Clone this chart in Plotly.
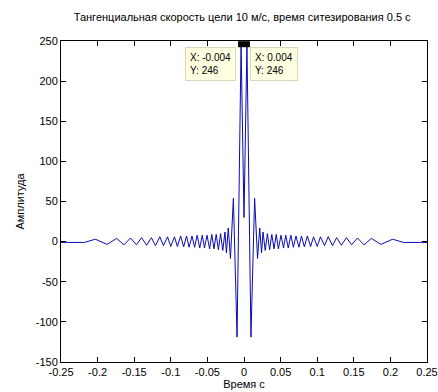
import plotly.graph_objects as go

# Time samples (s) and amplitude at vertices
time_s = [
    -0.25, -0.218, -0.203, -0.187, -0.174, -0.164, -0.155, -0.147, -0.140, -0.133,
    -0.1265, -0.121, -0.115, -0.110, -0.1045, -0.100, -0.095, -0.091, -0.0865, -0.0825,
    -0.0785, -0.075, -0.071, -0.0675, -0.064, -0.0605, -0.057, -0.054, -0.0505, -0.047,
    -0.044, -0.041, -0.038, -0.035, -0.032, -0.029, -0.026, -0.024, -0.0215, -0.0185,
    -0.0145, -0.0095, -0.004, 0.0,
    0.004, 0.0095, 0.0145, 0.0185, 0.0215, 0.024, 0.026, 0.029, 0.032, 0.035,
    0.038, 0.041, 0.044, 0.047, 0.0505, 0.054, 0.057, 0.0605, 0.064, 0.0675,
    0.071, 0.075, 0.0785, 0.0825, 0.0865, 0.091, 0.095, 0.100, 0.1045, 0.110,
    0.115, 0.121, 0.1265, 0.133, 0.140, 0.147, 0.155, 0.164, 0.174, 0.187,
    0.203, 0.218, 0.25,
]
amplitude = [
    -1, -1, 3, -3.5, 4, -4, 4.5, -4, 5, -4.5,
    5, -5, 6, -5, 6, -6, 6, -6, 7, -6.5,
    7, -7, 7, -7, 8, -8, 8, -8, 8, -9,
    9, -9, 9, -10, 10, -11, 12, -14, 17, -21,
    54, -119, 246, 30,
    246, -119, 54, -21, 17, -14, 12, -11, 10, -10,
    9, -9, 9, -9, 8, -8, 8, -8, 8, -7,
    7, -7, 7, -6.5, 7, -6, 6, -6, 6, -5,
    6, -5, 5, -4.5, 5, -4, 4.5, -4, 4, -3.5,
    3, -1, -1,
]

# Data tips
tip_x = [-0.004, 0.004]
tip_y = [246, 246]

# Axis ticks
x_ticks = [-0.25, -0.2, -0.15, -0.1, -0.05, 0, 0.05, 0.1, 0.15, 0.2, 0.25]
x_labels = ["-0.25", "-0.2", "-0.15", "-0.1", "-0.05", "0", "0.05", "0.1", "0.15", "0.2", "0.25"]
y_ticks = [-150, -100, -50, 0, 50, 100, 150, 200, 250]
y_labels = ["-150", "-100", "-50", "0", "50", "100", "150", "200", "250"]

title_text = "Тангенциальная скорость цели 10 м/с, время ситезирования 0.5 с"
x_title = "Время с"
y_title = "Амплитуда"

FONT = "Liberation Sans, Arial, sans-serif"

fig = go.Figure()
fig.add_trace(go.Scatter(
    x=time_s, y=amplitude, mode="lines",
    line=dict(color="rgb(10,10,180)", width=1),
    hoverinfo="skip", showlegend=False,
))
fig.add_trace(go.Scatter(
    x=tip_x, y=tip_y, mode="markers",
    marker=dict(symbol="square", size=6, color="black"),
    hoverinfo="skip", showlegend=False,
))

for tx, ty, anchor, xs in zip(tip_x, tip_y, ["right", "left"], [-0.011, 0.0085]):
    fig.add_annotation(
        x=xs, y=242, xref="x", yref="y",
        xanchor=anchor, yanchor="top",
        text=f"X: {tx:g}<br>Y: {ty:g}",
        showarrow=False, align="left",
        font=dict(family=FONT, size=10, color="black"),
        bgcolor="#FFFFE1", bordercolor="#D8D8B8", borderwidth=1, borderpad=4,
    )

axis_common = dict(
    showgrid=False, zeroline=False, showline=True, linecolor="black", linewidth=1,
    mirror="ticks", ticks="inside", ticklen=5, tickcolor="black", automargin=False,
    tickfont=dict(family=FONT, size=11, color="black"),
)

fig.update_layout(
    width=438, height=392,
    margin=dict(l=61, r=11, t=41, b=30),
    paper_bgcolor="white", plot_bgcolor="white",
    title=dict(text=title_text, xref="paper", x=0.495, xanchor="center",
               yref="container", y=1 - 17 / 392, yanchor="middle",
               font=dict(family=FONT, size=11, color="black")),
    xaxis=dict(range=[-0.25, 0.25], tickvals=x_ticks, ticktext=x_labels,
               title=dict(text=x_title, standoff=2, font=dict(family=FONT, size=11, color="black")),
               **axis_common),
    yaxis=dict(range=[-150, 250], tickvals=y_ticks, ticktext=y_labels,
               title=dict(text=y_title, standoff=8, font=dict(family=FONT, size=11, color="black")),
               **axis_common),
)

fig.write_html("out.html")
